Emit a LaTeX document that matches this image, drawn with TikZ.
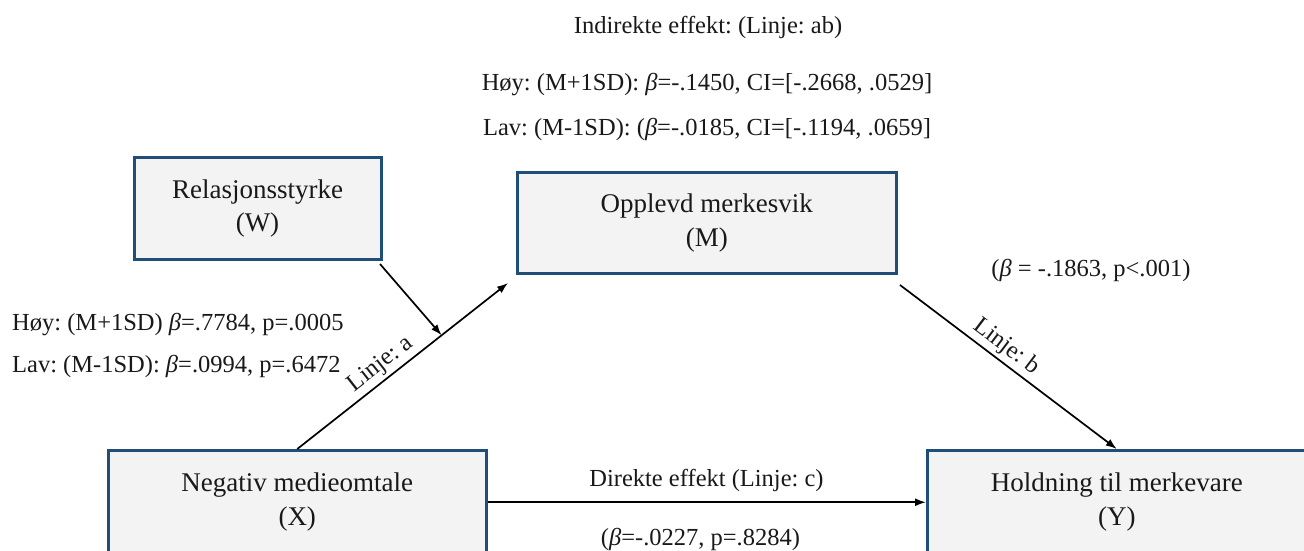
\documentclass[tikz,border=0pt]{standalone}
\usepackage{fontspec}
\setmainfont{Liberation Serif}
\usetikzlibrary{arrows.meta,calc}
\definecolor{boxblue}{HTML}{1F4E79}
\definecolor{boxfill}{HTML}{F3F3F3}
\newcommand{\bet}{{\itshape β}}
\frenchspacing
\begin{document}
\begin{tikzpicture}[x=1pt,y=-1pt,
  box/.style={draw=boxblue, line width=3pt, fill=boxfill, rectangle, inner sep=0pt,
    font=\fontsize{27}{33.5}\selectfont, align=center, text=black!90},
  lbl/.style={font=\fontsize{24.5}{30}\selectfont, inner sep=0pt, text=black!90},
  conn/.style={line width=1.7pt, -{Latex[length=11pt,width=8pt]}}]
\useasboundingbox (0,0) rectangle (1304,551);
\clip (0,0) rectangle (1304,551);
% boxes
\node[box, minimum width=247pt, minimum height=102pt] (W) at (257.5,208.5) {Relasjonsstyrke\\(W)};
\node[box, minimum width=378.5pt, minimum height=101pt] (M) at (706.75,223) {Opplevd merkesvik\\(M)};
\node[box, minimum width=377.5pt, minimum height=103.5pt] (X) at (297.25,502.25) {Negativ medieomtale\\(X)};
\node[box, minimum width=378.5pt, minimum height=103.5pt] (Y) at (1116.75,502.25) {Holdning til merkevare\\(Y)};
% free ends
\coordinate (aend) at (508,283);
\coordinate (bstart) at (900,285);
\coordinate (wstart) at (380,264);
\coordinate (amid) at ($(X.north)!0.685!(aend)$);
% connectors
\draw[conn] (X.north) -- node[pos=0.44, sloped, above, lbl, inner sep=3pt] (la) {Linje: a} (aend);
\draw[conn] (bstart) -- node[pos=0.45, sloped, above, lbl, inner sep=3pt] (lb) {Linje: b} (Y.north);
\draw[conn] (wstart) -- (amid);
\draw[conn] (X.east) -- (Y.west);
% labels
\node[lbl, anchor=base] (t1) at (708,34) {Indirekte effekt: (Linje: ab)};
\node[lbl, anchor=base] (t2) at (707,91) {Høy: (M+1SD): \bet=-.1450, CI=[-.2668, .0529]};
\node[lbl, anchor=base] (t3) at (707,135) {Lav: (M-1SD): (\bet=-.0185, CI=[-.1194, .0659]};
\node[lbl, anchor=base west] (l1) at (12,330) {Høy: (M+1SD) \bet=.7784, p=.0005};
\node[lbl, anchor=base west] (l2) at (12,372) {Lav: (M-1SD): \bet=.0994, p=.6472};
\node[lbl, anchor=base] (bl) at (1091,276) {(\bet{} = -.1863, p<.001)};
\node[lbl, anchor=base] (c1) at (706.5,486) {Direkte effekt (Linje: c)};
\node[lbl, anchor=base] (c2) at (700.5,545) {(\bet=-.0227, p=.8284)};
\end{tikzpicture}
\end{document}
